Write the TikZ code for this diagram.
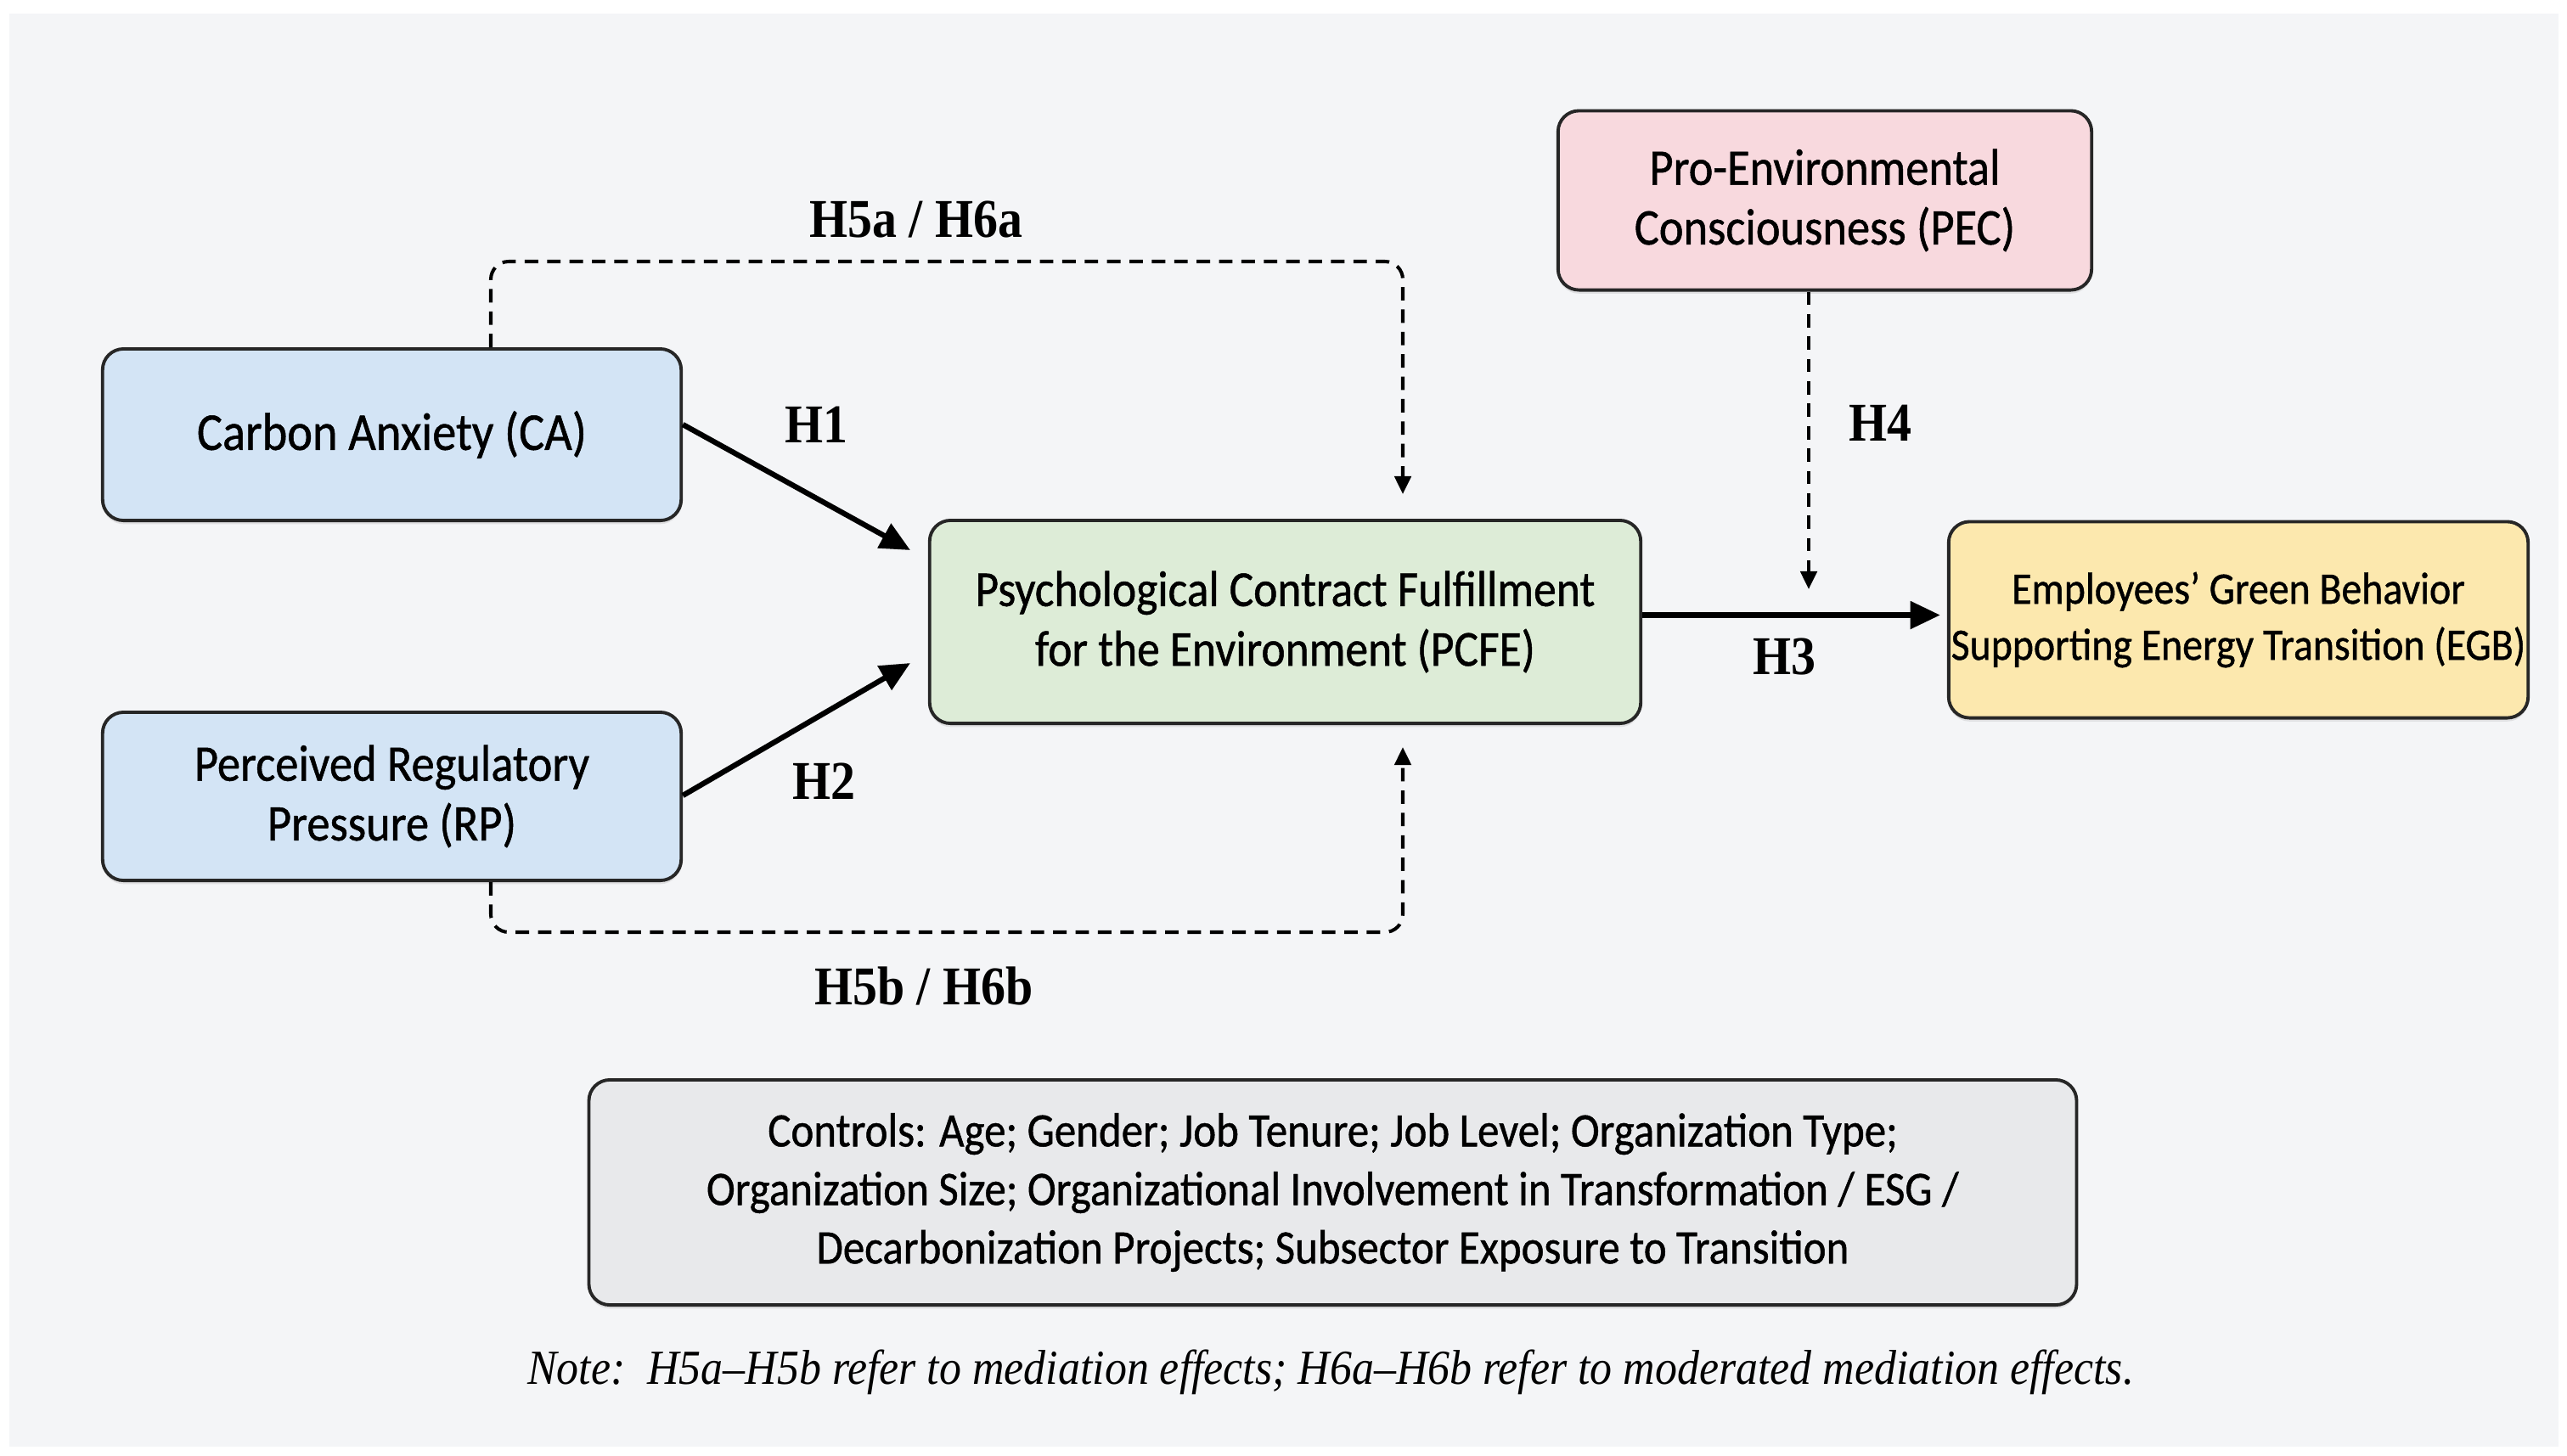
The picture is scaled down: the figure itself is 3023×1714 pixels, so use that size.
\documentclass[tikz,border=0pt]{standalone}
\usepackage{fontspec}
\setmainfont{Liberation Serif}
\newfontfamily\boxfont[FakeBold=0.8,FakeStretch=0.9]{Carlito}
\newfontfamily\labfont[FakeStretch=0.9]{Liberation Serif}
\usetikzlibrary{arrows.meta,calc,shadows}
\definecolor{bgc}{HTML}{F4F5F7}
\definecolor{bluef}{HTML}{D3E4F5}
\definecolor{greenf}{HTML}{DDECD7}
\definecolor{pinkf}{HTML}{F8D9DE}
\definecolor{yellowf}{HTML}{FCE8AE}
\definecolor{grayf}{HTML}{E8E9EB}
\definecolor{edge}{HTML}{262626}
\tikzset{
  box/.style={draw=edge, line width=1.1pt, rounded corners=7pt, align=center,
    font=\boxfont\fontsize{17.2}{20}\selectfont, inner sep=0pt,
    drop shadow={opacity=0.18, shadow xshift=0pt, shadow yshift=-1.2pt}},
  hlab/.style={font=\labfont\bfseries\fontsize{18.3}{18}\selectfont, inner sep=0pt},
  solidarr/.style={line width=1.8pt, draw=black, -{Triangle[length=10pt,width=9pt]}},
  dasharr/.style={line width=1.15pt, draw=black, dash pattern=on 4.5pt off 3pt,
    rounded corners=6pt, -{Triangle[length=6pt,width=5.5pt]}},
}
\begin{document}
\begin{tikzpicture}[x=0.01cm, y=-0.01cm]
\useasboundingbox (0,0) rectangle (3023,1714);
\fill[white] (0,0) rectangle (3023,1714);
\fill[bgc] (11,16) rectangle (3013,1704);

% boxes
\node[box, fill=bluef, minimum width=6.81cm, minimum height=2.02cm, font=\boxfont\fontsize{17.8}{20}\selectfont] (CA) at (461.5,512) {Carbon Anxiety (CA)};
\node[box, fill=bluef, minimum width=6.81cm, minimum height=1.98cm] (RP) at (461.5,938) {Perceived Regulatory\\Pressure (RP)};
\node[box, fill=greenf, minimum width=8.37cm, minimum height=2.39cm, font=\boxfont\fontsize{16.9}{20}\selectfont] (PCFE) at (1513.5,732.5) {Psychological Contract Fulfillment\\for the Environment (PCFE)};
\node[box, fill=pinkf, minimum width=6.28cm, minimum height=2.11cm] (PEC) at (2149,236) {Pro-Environmental\\Consciousness (PEC)};
\node[box, fill=yellowf, minimum width=6.82cm, minimum height=2.31cm, font=\boxfont\fontsize{15.1}{18.8}\selectfont] (EGB) at (2636,730) {Employees’ Green Behavior\\Supporting Energy Transition (EGB)};
\node[box, fill=grayf, minimum width=17.51cm, minimum height=2.65cm, font=\boxfont\fontsize{16.1}{19.6}\selectfont] (CTRL) at (1569.5,1404.5)
  {Controls: Age; Gender; Job Tenure; Job Level; Organization Type;\\Organization Size; Organizational Involvement in Transformation / ESG /\\Decarbonization Projects; Subsector Exposure to Transition};

% note
\node[inner sep=0pt, font=\labfont\itshape\fontsize{16.4}{16}\selectfont] (note) at (1567,1616)
  {Note:\ \ H5a–H5b refer to mediation effects; H6a–H6b refer to moderated mediation effects.};

% connector end points
\coordinate (h1end) at (1072,648);
\coordinate (h2end) at (1072,781);
\coordinate (h4end) at (2130,694);
\coordinate (h5aend) at (1652,582);
\coordinate (h5bend) at (1652,880);

% solid arrows
\draw[solidarr] ($(CA.east)+(0,-12)$) -- (h1end);
\draw[solidarr] ($(RP.east)+(0,-1)$) -- (h2end);
\draw[solidarr] ($(PCFE.east)+(0,-8)$) -- ($(EGB.west |- PCFE.east)+(-8,-8)$);

% dashed arrows
\draw[dasharr] ($(PEC.south)+(-19,0)$) -- (h4end);
\draw[dasharr] ($(CA.north)+(116.5,0)$) -- (578,308) -- (1652,308) -- (h5aend);
\draw[dasharr] ($(RP.south)+(116.5,0)$) -- (578,1098) -- (1652,1098) -- (h5bend);

% labels
\node[hlab] (lH1) at (961,500) {H1};
\node[hlab] (lH2) at (970,920) {H2};
\node[hlab] (lH3) at (2101,773) {H3};
\node[hlab] (lH4) at (2214,498) {H4};
\node[hlab] (lH5a) at (1079,258) {H5a / H6a};
\node[hlab] (lH5b) at (1088,1161) {H5b / H6b};
\end{tikzpicture}
\end{document}
